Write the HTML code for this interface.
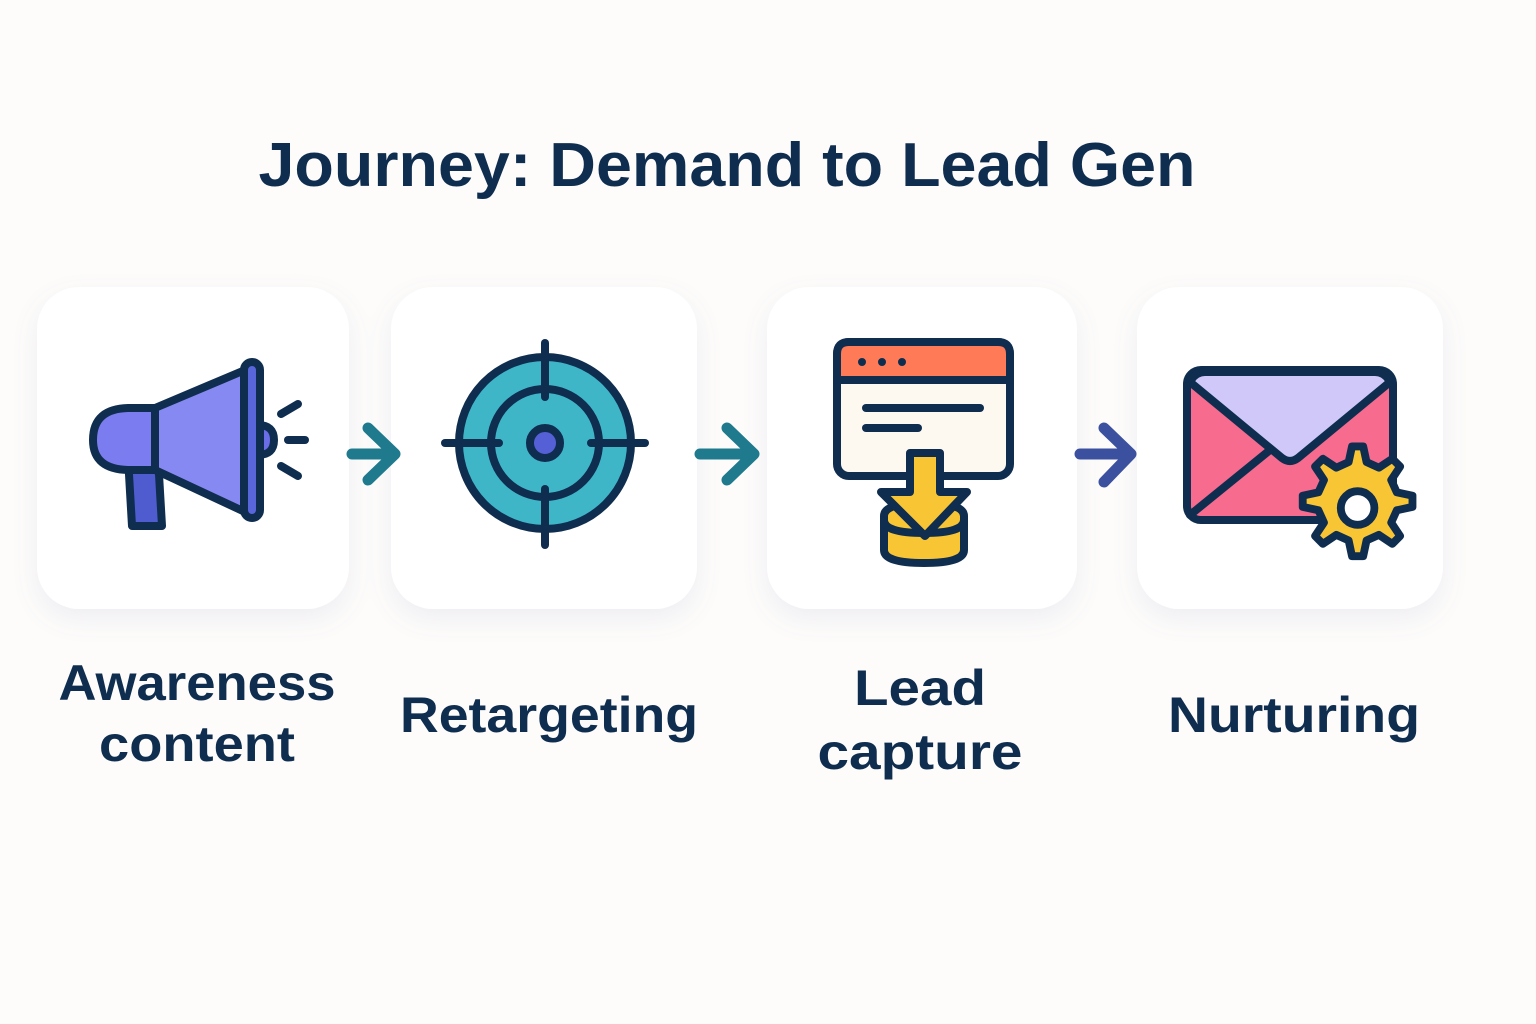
<!DOCTYPE html>
<html><head><meta charset="utf-8"><style>
html,body{margin:0;padding:0;background:#fdfcfa;}
svg{display:block}
text{font-family:"Liberation Sans",sans-serif;font-weight:bold;fill:#0f2d4f}
</style></head><body>
<svg width="1536" height="1024" viewBox="0 0 1536 1024" xmlns="http://www.w3.org/2000/svg">
<defs>
<filter id="sh" x="-20%" y="-20%" width="140%" height="150%"><feDropShadow dx="0" dy="10" stdDeviation="12" flood-color="#8080c0" flood-opacity="0.12"/></filter>
</defs>
<rect width="1536" height="1024" fill="#fdfcfa"/>
<text x="727" y="186" font-size="62" text-anchor="middle" textLength="937" lengthAdjust="spacingAndGlyphs">Journey: Demand to Lead Gen</text>
<g filter="url(#sh)" fill="#ffffff">
<rect x="37" y="287" width="312" height="322" rx="42"/>
<rect x="391" y="287" width="306" height="322" rx="42"/>
<rect x="767" y="287" width="310" height="322" rx="42"/>
<rect x="1137" y="287" width="306" height="322" rx="42"/>
</g>
<g stroke="#0f2d4f" stroke-width="8" stroke-linejoin="round" stroke-linecap="round">
<path d="M127 440 L157 440 L162 526 L132 526 Z" fill="#4f5ccf"/>
<path d="M155 408 L130 408 Q93 408 93 440 Q93 470 130 470 L155 470 Z" fill="#7b7cef"/>
<path d="M155 408 L245 370 L245 512 L155 470 Z" fill="#8689f2"/>
<path d="M258 425 Q274 425 274 440 Q274 455 258 455" fill="#6a6de6"/>
<rect x="244" y="362" width="16" height="156" rx="8" fill="#5966db"/>
<line x1="281" y1="414" x2="298" y2="404"/><line x1="288" y1="440" x2="305" y2="440"/><line x1="281" y1="466" x2="298" y2="476"/>
<circle cx="545" cy="443" r="86" fill="#3fb6c8"/>
<circle cx="545" cy="443" r="54" fill="#3fb6c8"/>
<circle cx="545" cy="443" r="15" fill="#5560d6"/>
<line x1="545" y1="343" x2="545" y2="397"/><line x1="545" y1="489" x2="545" y2="545"/>
<line x1="445" y1="443" x2="499" y2="443"/><line x1="591" y1="443" x2="645" y2="443"/>
<rect x="837" y="342" width="173" height="134" rx="12" fill="#fdf8f0"/>
<path d="M837 380 L837 354 Q837 342 849 342 L998 342 Q1010 342 1010 354 L1010 380 Z" fill="#ff7a57"/>
<line x1="837" y1="380" x2="1010" y2="380"/>
<line x1="866" y1="408" x2="980" y2="408"/><line x1="866" y1="428" x2="918" y2="428"/>
<path d="M884 516 Q884 503 924 503 Q964 503 964 516 L964 550 Q964 563 924 563 Q884 563 884 550 Z" fill="#f8c534"/>
<path d="M884 520 Q884 533 924 533 Q964 533 964 520" fill="none"/>
<path d="M910 453 L940 453 L940 492 L967 492 L925 536 L881 492 L910 492 Z" fill="#f8c534"/>
<circle cx="862" cy="362" r="3" fill="#0f2d4f" stroke-width="2"/><circle cx="882" cy="362" r="3" fill="#0f2d4f" stroke-width="2"/><circle cx="902" cy="362" r="3" fill="#0f2d4f" stroke-width="2"/>
<rect x="1187" y="370" width="206" height="150" rx="14" fill="#f76b8f"/>
<path d="M1190 382 L1282 458 Q1290 464 1298 458 L1390 382 Q1385 372 1375 372 L1205 372 Q1195 372 1190 382 Z" fill="#d0c8f8"/>
<line x1="1190" y1="515" x2="1270" y2="450"/>
<g transform="translate(1352 508) scale(1.12) translate(-1352 -508)">
<path d="M1352 453 l10 0 3 14 11 5 12 -8 7 7 -8 12 5 11 14 3 0 10 -14 3 -5 11 8 12 -7 7 -12 -8 -11 5 -3 14 -10 0 -3 -14 -11 -5 -12 8 -7 -7 8 -12 -5 -11 -14 -3 0 -10 14 -3 5 -11 -8 -12 7 -7 12 8 11 -5 Z" fill="#f8c534" stroke-width="7"/>
<circle cx="1357" cy="508" r="15" fill="#fff" stroke-width="7"/>
</g>
</g>
<g fill="none" stroke-width="11" stroke-linecap="round" stroke-linejoin="round">
<path d="M352 454 L395 454 M368 428 L395 454 L368 480" stroke="#1e7a8c"/>
<path d="M700 454 L754 454 M727 428 L754 454 L727 480" stroke="#1e7a8c"/>
<path d="M1080 454 L1131 454 M1104 428 L1131 454 L1104 482" stroke="#3c50a0"/>
</g>
<g font-size="50" text-anchor="middle">
<text x="197" y="700" textLength="277" lengthAdjust="spacingAndGlyphs">Awareness</text>
<text x="197" y="761" textLength="196" lengthAdjust="spacingAndGlyphs">content</text>
<text x="549" y="732" textLength="298" lengthAdjust="spacingAndGlyphs">Retargeting</text>
<text x="920" y="705" textLength="132" lengthAdjust="spacingAndGlyphs">Lead</text>
<text x="920" y="769" textLength="205" lengthAdjust="spacingAndGlyphs">capture</text>
<text x="1294" y="732" textLength="252" lengthAdjust="spacingAndGlyphs">Nurturing</text>
</g>
</svg>
</body></html>
